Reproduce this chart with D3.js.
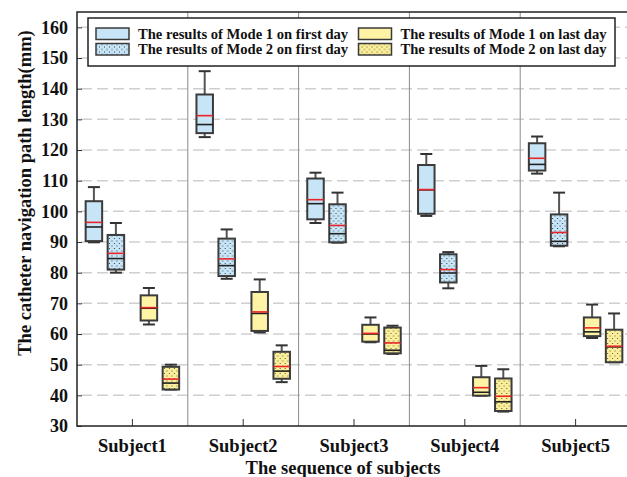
<!DOCTYPE html>
<html>
<head>
<meta charset="utf-8">
<script src="https://cdn.jsdelivr.net/npm/d3@7"></script>
<style>
  body { margin: 0; background: #fff; }
  text { font-family: "Liberation Serif", "Times New Roman", serif; font-weight: bold; fill: #111; }
</style>
</head>
<body>
<svg id="chart" width="627" height="477"></svg>
<script>
// each entry: [whisker low, q1, median, mean, q3, whisker high]
const subjects = ['Subject1', 'Subject2', 'Subject3', 'Subject4', 'Subject5'];
const mode1_first = [
    [89.9, 90.3, 94.9, 96.4, 103.3, 107.9],
    [124.2, 125.5, 128.3, 131.2, 138.1, 145.7],
    [96.2, 97.4, 102.5, 103.8, 110.7, 112.6],
    [98.5, 99.2, 107.0, 107.1, 115.1, 118.7],
    [112.3, 113.3, 115.3, 117.3, 122.2, 124.4],
];
const mode2_first = [
    [80.0, 81.0, 84.6, 86.3, 92.3, 96.2],
    [78.0, 78.9, 82.3, 84.5, 91.1, 94.1],
    [89.8, 89.9, 92.7, 95.4, 102.3, 106.1],
    [74.9, 76.8, 79.9, 81.0, 86.0, 86.7],
    [88.6, 88.8, 90.2, 93.1, 99.0, 106.1],
];
const mode1_last = [
    [63.1, 64.4, 68.4, 68.6, 72.6, 75.0],
    [60.5, 61.0, 66.7, 67.2, 73.7, 77.8],
    [57.3, 57.5, 60.0, 60.2, 63.0, 65.4],
    [39.9, 39.9, 41.0, 42.5, 45.9, 49.6],
    [58.7, 59.3, 60.7, 62.0, 65.4, 69.6],
];
const mode2_last = [
    [41.9, 41.9, 44.0, 45.3, 49.3, 50.0],
    [44.3, 45.4, 47.9, 49.4, 54.2, 56.3],
    [53.5, 53.7, 54.7, 57.1, 62.1, 62.7],
    [34.7, 34.9, 37.9, 39.7, 45.5, 48.5],
    [50.8, 50.8, 55.8, 56.0, 61.4, 66.7],
];
const series_names = [
    'The results of Mode 1 on first day',
    'The results of Mode 2 on first day',
    'The results of Mode 1 on last day',
    'The results of Mode 2 on last day',
];
const y_ticks = [30, 40, 50, 60, 70, 80, 90, 100, 110, 120, 130, 140, 150, 160];

const svg = d3.select('#chart');
const m_left = 77, m_right = 631, m_top = 12, m_bottom = 426;

const x = d3.scaleBand().domain(subjects).range([m_left, m_right]);
const y = d3.scaleLinear().domain([30, 165]).range([m_bottom, m_top]);
// day groups sit left/right of band centre, modes inside each group
const day_offset = d3.scalePoint().domain(['first', 'last']).range([-27.5, 27.5]);
const mode_offset = d3.scalePoint().domain(['m1', 'm2']).range([-11, 11]);
const box_w = 16.5;

const series = [
    {data: mode1_first, day: 'first', mode: 'm1', fill: '#c7e5f6'},
    {data: mode2_first, day: 'first', mode: 'm2', fill: 'url(#dots-blue)'},
    {data: mode1_last, day: 'last', mode: 'm1', fill: '#fff4a6'},
    {data: mode2_last, day: 'last', mode: 'm2', fill: 'url(#dots-yellow)'},
];

// stipple patterns
const defs = svg.append('defs');
function dot_pattern(id, bg, dot) {
    const p = defs.append('pattern')
        .attr('id', id)
        .attr('patternUnits', 'userSpaceOnUse')
        .attr('width', 5).attr('height', 5);
    p.append('rect').attr('width', 5).attr('height', 5).attr('fill', bg);
    p.append('rect').attr('x', 0.5).attr('y', 0.5).attr('width', 1).attr('height', 1).attr('fill', dot);
    p.append('rect').attr('x', 3).attr('y', 3).attr('width', 1).attr('height', 1).attr('fill', dot);
}
dot_pattern('dots-blue', '#c7e5f6', '#2e4656');
dot_pattern('dots-yellow', '#fbef9c', '#5d5a2c');

// grid
svg.append('g')
    .selectAll('line')
    .data(y_ticks.filter(d => d > 30))
    .join('line')
    .attr('x1', m_left).attr('x2', m_right)
    .attr('y1', d => y(d)).attr('y2', d => y(d))
    .attr('stroke', '#cfcfcf')
    .attr('stroke-width', 1.5)
    .attr('stroke-dasharray', '11,5')
    .attr('stroke-dashoffset', -4);

svg.append('g')
    .selectAll('line')
    .data(subjects.slice(1))
    .join('line')
    .attr('x1', d => x(d)).attr('x2', d => x(d))
    .attr('y1', m_top).attr('y2', m_bottom)
    .attr('stroke', '#8a8a8a')
    .attr('stroke-width', 1);

// boxes
series.forEach(s => {
    const g = svg.append('g');
    const cx = i => x(subjects[i]) + x.bandwidth() / 2 + day_offset(s.day) + mode_offset(s.mode);
    const groups = g.selectAll('g')
        .data(s.data)
        .join('g')
        .attr('transform', (d, i) => `translate(${cx(i)},0)`);

    groups.append('line')
        .attr('y1', d => y(d[5])).attr('y2', d => y(d[4]))
        .attr('stroke', '#555').attr('stroke-width', 2);
    groups.append('line')
        .attr('y1', d => y(d[1])).attr('y2', d => y(d[0]))
        .attr('stroke', '#555').attr('stroke-width', 2);
    groups.append('line')
        .attr('x1', -6).attr('x2', 6)
        .attr('y1', d => y(d[5])).attr('y2', d => y(d[5]))
        .attr('stroke', '#333').attr('stroke-width', 2);
    groups.append('line')
        .attr('x1', -6).attr('x2', 6)
        .attr('y1', d => y(d[0])).attr('y2', d => y(d[0]))
        .attr('stroke', '#333').attr('stroke-width', 2);
    groups.append('rect')
        .attr('x', -box_w / 2).attr('width', box_w)
        .attr('y', d => y(d[4]))
        .attr('height', d => y(d[1]) - y(d[4]))
        .attr('fill', s.fill)
        .attr('stroke', '#3b3b3b')
        .attr('stroke-width', 2);
    groups.append('line')
        .attr('x1', -box_w / 2).attr('x2', box_w / 2)
        .attr('y1', d => y(d[2])).attr('y2', d => y(d[2]))
        .attr('stroke', '#222').attr('stroke-width', 1.6);
    groups.append('line')
        .attr('x1', -box_w / 2).attr('x2', box_w / 2)
        .attr('y1', d => y(d[3])).attr('y2', d => y(d[3]))
        .attr('stroke', '#e8262a').attr('stroke-width', 1.6);
});

// axes
const y_axis = svg.append('g')
    .attr('transform', `translate(${m_left},0)`)
    .call(d3.axisLeft(y).tickValues(y_ticks).tickSize(-5).tickPadding(9));
y_axis.select('.domain').remove();
y_axis.selectAll('line').attr('stroke', '#333');
y_axis.selectAll('text').attr('font-size', 18).attr('font-family', null).style('fill', '#111');

const x_axis = svg.append('g')
    .attr('transform', `translate(0,${m_bottom})`)
    .call(d3.axisBottom(x).tickSize(-7).tickPadding(13));
x_axis.select('.domain').remove();
x_axis.selectAll('line').attr('stroke', '#333');
x_axis.selectAll('text').attr('font-size', 18.5).attr('font-family', null).style('fill', '#111');

svg.append('rect')
    .attr('x', m_left).attr('y', m_top)
    .attr('width', m_right - m_left).attr('height', m_bottom - m_top)
    .attr('fill', 'none')
    .attr('stroke', '#222')
    .attr('stroke-width', 1.5);

svg.append('text')
    .attr('x', 343).attr('y', 474)
    .attr('text-anchor', 'middle')
    .attr('font-size', 18.5)
    .text('The sequence of subjects');

svg.append('text')
    .attr('transform', 'translate(31,193) rotate(-90)')
    .attr('text-anchor', 'middle')
    .attr('font-size', 18.5)
    .text('The catheter navigation path length(mm)');

// legend
const legend = svg.append('g');
legend.append('rect')
    .attr('x', 88).attr('y', 18)
    .attr('width', 527).attr('height', 48)
    .attr('fill', '#fff')
    .attr('stroke', '#222')
    .attr('stroke-width', 1.5);
const legend_pos = [[96, 28], [96, 43.5], [358.5, 28], [358.5, 43.5]];
const items = legend.selectAll('g.item')
    .data(series)
    .join('g')
    .attr('class', 'item')
    .attr('transform', (d, i) => `translate(${legend_pos[i][0]},${legend_pos[i][1]})`);
items.append('rect')
    .attr('width', 33).attr('height', 11.5)
    .attr('fill', d => d.fill)
    .attr('stroke', '#3b3b3b')
    .attr('stroke-width', 1.5);
items.append('text')
    .attr('x', 42).attr('y', 10.5)
    .attr('font-size', 14.6)
    .text((d, i) => series_names[i]);
</script>
</body>
</html>
